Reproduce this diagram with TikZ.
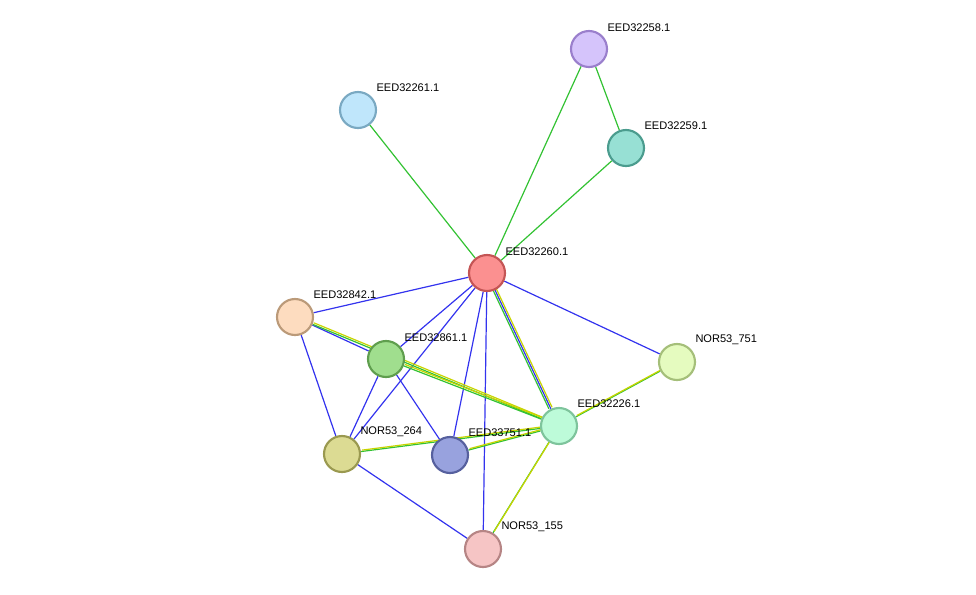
\documentclass[tikz,border=0pt]{standalone}
\usepackage{fontspec}
\setmainfont{Liberation Sans}
\usetikzlibrary{backgrounds}
\definecolor{egreen}{RGB}{51,194,51}
\definecolor{eblue}{RGB}{51,51,238}
\definecolor{eyellow}{RGB}{200,212,0}
\definecolor{f258}{HTML}{D5C4FB}\definecolor{d258}{HTML}{9A7FCC}
\definecolor{f259}{HTML}{97E0D4}\definecolor{d259}{HTML}{4B9C8E}
\definecolor{f261}{HTML}{BFE6FB}\definecolor{d261}{HTML}{7AA9C2}
\definecolor{f260}{HTML}{FB9090}\definecolor{d260}{HTML}{C45555}
\definecolor{f842}{HTML}{FDDCBF}\definecolor{d842}{HTML}{BB9A79}
\definecolor{f861}{HTML}{A0DE8E}\definecolor{d861}{HTML}{5F9E4E}
\definecolor{f751}{HTML}{E5FBBF}\definecolor{d751}{HTML}{A5BF7A}
\definecolor{f226}{HTML}{BDFBD9}\definecolor{d226}{HTML}{7EC49C}
\definecolor{f264}{HTML}{DCDB93}\definecolor{d264}{HTML}{9A9950}
\definecolor{f33751}{HTML}{98A2DE}\definecolor{d33751}{HTML}{56609E}
\definecolor{f155}{HTML}{F6C5C5}\definecolor{d155}{HTML}{B68585}
\tikzset{every picture/.style={line width=0.75pt},
  prot/.style={circle,minimum size=27pt,inner sep=0pt,line width=1.6pt,fill=f#1,draw=d#1},
  lbl/.style={anchor=west,inner sep=0.75pt,font=\fontsize{8.3}{9}\selectfont},
  gl/.style={draw=egreen,line width=0.9pt},
  bl/.style={draw=eblue,line width=0.9pt},
  yl/.style={draw=eyellow,line width=0.9pt,transform canvas={xshift=0.9pt,yshift=1.1pt}}}

\begin{document}
\begin{tikzpicture}[x=0.75pt,y=0.75pt,yscale=-1,xscale=1]
\useasboundingbox (0,0) rectangle (976,594);
%Proteins
\node [prot=258] (p258) at (589,49) {};
\node [prot=259] (p259) at (626,148) {};
\node [prot=261] (p261) at (358,110) {};
\node [prot=260] (p260) at (487,273) {};
\node [prot=842] (p842) at (295,317) {};
\node [prot=861] (p861) at (386,359) {};
\node [prot=751] (p751) at (677,362) {};
\node [prot=226] (p226) at (559,426) {};
\node [prot=264] (p264) at (342,454) {};
\node [prot=33751] (p33751) at (450,455) {};
\node [prot=155] (p155) at (483,549) {};
%Labels
\node [lbl] (t258) at (606,28) {EED32258.1};
\node [lbl] (t259) at (643,126) {EED32259.1};
\node [lbl] (t261) at (375,88) {EED32261.1};
\node [lbl] (t260) at (504,252) {EED32260.1};
\node [lbl] (t842) at (312,295) {EED32842.1};
\node [lbl] (t861) at (403,338) {EED32861.1};
\node [lbl] (t751) at (694,340) {NOR53\_751};
\node [lbl] (t226) at (576,404) {EED32226.1};
\node [lbl] (t264) at (359,432) {NOR53\_264};
\node [lbl] (t33751) at (467,433) {EED33751.1};
\node [lbl] (t155) at (500,527) {NOR53\_155};
%Edges
\begin{scope}[on background layer]
\draw [gl] (p258) -- (p260); \draw [gl] (p258) -- (p259);
\draw [gl] (p259) -- (p260); \draw [gl] (p261) -- (p260);
\foreach \a in {p842,p861,p264,p33751,p155,p751}
  \draw [bl] (p260) -- (\a);
\draw [bl] (p842) -- (p861); \draw [bl] (p842) -- (p264);
\draw [bl] (p861) -- (p264); \draw [bl] (p861) -- (p33751);
\draw [bl] (p264) -- (p155);
\draw [gl,transform canvas={xshift=-1.5pt}] (p260) -- (p226);
\draw [bl] (p260) -- (p226);
\draw [yl] (p260) -- (p226);
\foreach \a in {p842,p861,p264,p33751,p751,p155}{
  \draw [gl] (\a) -- (p226);
  \draw [yl] (\a) -- (p226);}
\end{scope}
\end{tikzpicture}
\end{document}
